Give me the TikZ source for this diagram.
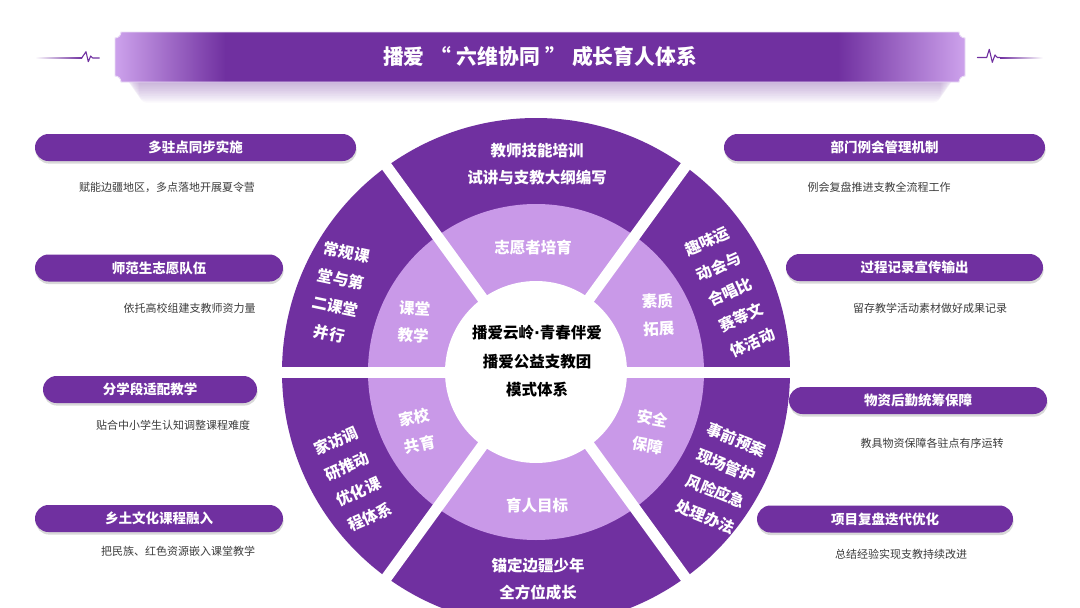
\documentclass[tikz,border=0pt]{standalone}
\usepackage{fontspec}
\setmainfont{Noto Sans CJK SC}
\newfontfamily\dvs{DejaVu Sans}
\usetikzlibrary{shapes.misc,shadows,calc}
\definecolor{dp}{RGB}{112,48,160}
\definecolor{lp}{RGB}{201,153,232}
\definecolor{lpb}{RGB}{205,162,236}
\definecolor{dt}{RGB}{60,60,60}
\definecolor{bord}{RGB}{235,222,246}
\pgfdeclarehorizontalshading{bannershade}{100bp}{color(0bp)=(lpb); color(25bp)=(lpb); color(31.5bp)=(dp); color(67.5bp)=(dp); color(75bp)=(lpb); color(100bp)=(lpb)}
\newcommand\wtx[5]{\node[wt,rotate=#4] (#1) at (#2,#3) {#5};}
\newcommand\qq[1]{\hspace{0.27em}#1\hspace{0.27em}}
\tikzset{
  wt/.style={text=white, font=\bfseries\fontsize{15.5}{27.7}\selectfont, align=center, inner sep=0pt},
  ct/.style={text=black, font=\bfseries\fontsize{15.5}{28.5}\selectfont, align=center, inner sep=0pt},
  pill/.style={rounded rectangle, fill=dp, text=white, font=\bfseries\fontsize{13.5}{16}\selectfont,
    minimum height=27pt, inner sep=0pt,
    drop shadow={opacity=.3, shadow xshift=.6pt, shadow yshift=-2.6pt}},
  desc/.style={text=dt, font=\fontsize{11}{13}\selectfont, inner sep=0pt},
  beat/.style={dp, line width=1.1pt, line join=round, line cap=round}
}
\begin{document}
\begin{tikzpicture}[x=1pt,y=-1pt]
\useasboundingbox (0,0) rectangle (1080,608);
\clip (0,0) rectangle (1080,608);
\fill[white] (0,0) rectangle (1080,608);

% title banner shadow (soft layers)
\foreach \i in {0,...,11}
  \fill[dp, opacity=0.03, rounded corners=8pt] (126+\i*1.2,70) rectangle (954-\i*1.2,84+\i*1.7);
% title banner
\shadedraw[shading=bannershade, draw=bord, line width=0.9pt]
  (121,32) -- (959,32) .. controls (959,35.3) and (961.7,38) .. (965,38)
  -- (965,76) .. controls (961.7,76) and (959,78.7) .. (959,82)
  -- (121,82) .. controls (121,78.7) and (118.3,76) .. (115,76)
  -- (115,38) .. controls (118.3,38) and (121,35.3) .. (121,32) -- cycle;
\node[font=\bfseries\fontsize{20.8}{24}\selectfont, text=white] (title) at (540,57) {播爱\qq{“}六维协同\qq{”}成长育人体系};

% heartbeat decorations
\shade[left color=white, right color=dp] (35,57.5) rectangle (82,58.6);
\draw[beat] (81.7,58) -- (86,51.7) -- (88.3,61.7) -- (90.7,56) -- (92.7,58) -- (99.3,58);
\draw[beat] (977.3,57.5) -- (986.7,57.5) -- (989.3,49.3) -- (992.3,62.3) -- (995,55) -- (997.3,57.5) -- (1000,57.5);
\shade[left color=dp, right color=white] (1000,57) rectangle (1043,58.1);

% wheel
\coordinate (C) at (536,372);
\fill[dp] (C) circle[radius=254];
\fill[lp] (C) circle[radius=168];
\foreach \a in {0,54,126}
  \draw[white, line width=11pt] ($(C)+(\a:262)$) -- ($(C)+(\a+180:262)$);
\fill[white] (C) circle[radius=91];

% outer ring texts
\wtx{otop}{537}{164}{0}{教师技能培训\\试讲与支教大纲编写}
\wtx{obot}{538}{579}{0}{锚定边疆少年\\全方位成长}
\wtx{olu}{338}{293}{-12}{常规课\\堂与第\\二课堂\\并行}
\wtx{oru}{730}{292}{24}{趣味运\\动会与\\合唱比\\赛等文\\体活动}
\wtx{orl}{721}{478.5}{-22}{事前预案\\现场管护\\风险应急\\处理办法}
\wtx{oll}{353}{479}{24}{家访调\\研推动\\优化课\\程体系}

% light ring texts
\wtx{itop}{533}{248}{0}{志愿者培育}
\wtx{ibot}{537}{505}{0}{育人目标}
\wtx{ilu}{414}{322}{-3}{课堂\\教学}
\wtx{iru}{658}{315}{3}{素质\\拓展}
\wtx{ill}{417}{431}{12}{家校\\共育}
\wtx{irl}{650}{432}{-10}{安全\\保障}

% center
\node[ct] (center) at (537,361.5) {播爱云岭{\dvs ·}青春伴爱\\播爱公益支教团\\模式体系};

% left pills
\node[pill, minimum width=321pt] (pl1) at (195.5,147.5) {多驻点同步实施};
\node[desc] (dl1) at (167,187) {赋能边疆地区，多点落地开展夏令营};
\node[pill, minimum width=248pt] (pl2) at (159,268) {师范生志愿队伍};
\node[desc] (dl2) at (189.5,308) {依托高校组建支教师资力量};
\node[pill, minimum width=214pt] (pl3) at (150,389.5) {分学段适配教学};
\node[desc] (dl3) at (173,425) {贴合中小学生认知调整课程难度};
\node[pill, minimum width=248pt] (pl4) at (159,518.5) {乡土文化课程融入};
\node[desc] (dl4) at (178,551) {把民族、红色资源嵌入课堂教学};

% right pills
\node[pill, minimum width=321pt] (pr1) at (884.5,147.5) {部门例会管理机制};
\node[desc] (dr1) at (879,187) {例会复盘推进支教全流程工作};
\node[pill, minimum width=257pt] (pr2) at (914.5,267.5) {过程记录宣传输出};
\node[desc] (dr2) at (930,308) {留存教学活动素材做好成果记录};
\node[pill, minimum width=258pt] (pr3) at (918,400.5) {物资后勤统筹保障};
\node[desc] (dr3) at (932,443) {教具物资保障各驻点有序运转};
\node[pill, minimum width=256pt] (pr4) at (885,519) {项目复盘迭代优化};
\node[desc] (dr4) at (901,554) {总结经验实现支教持续改进};
\end{tikzpicture}
\end{document}
